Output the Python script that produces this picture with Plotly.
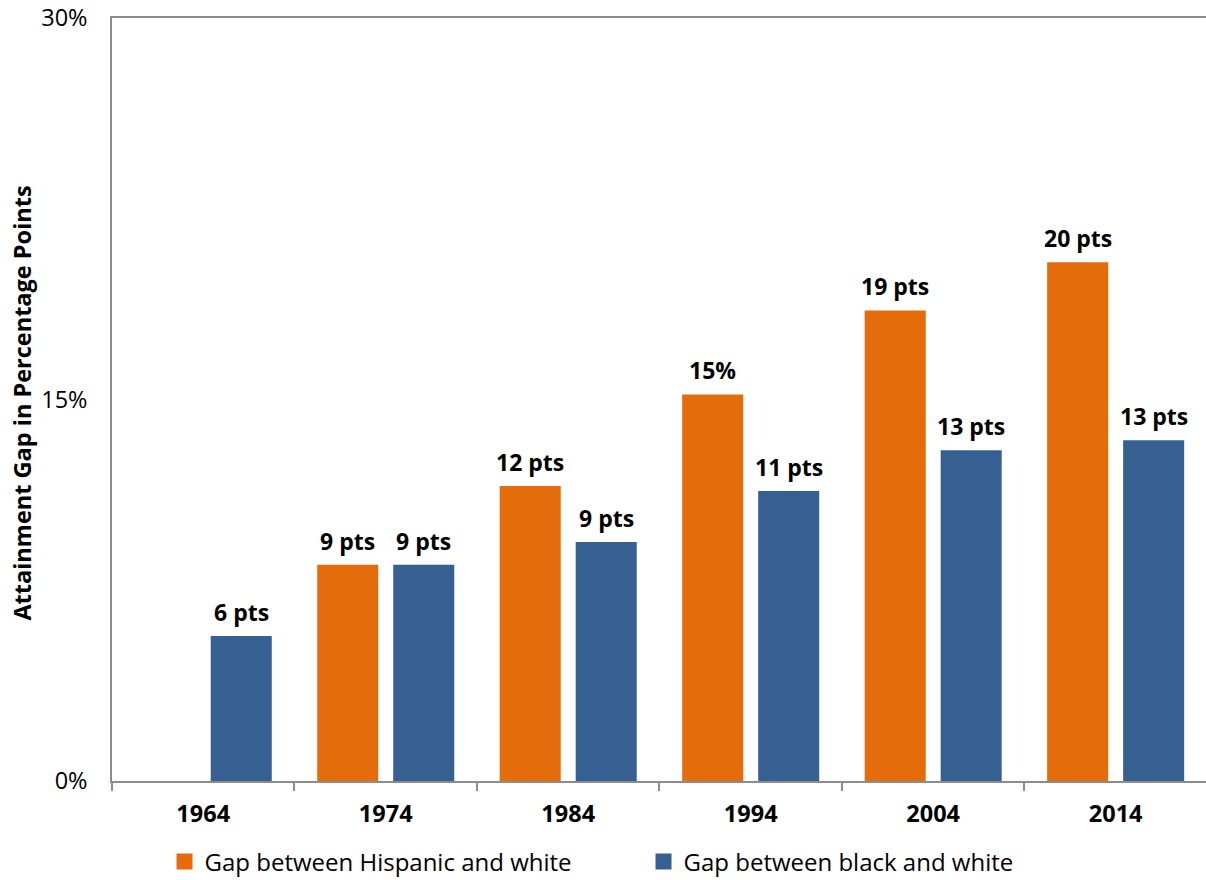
import plotly.graph_objects as go

# Survey years and attainment gaps (percentage points)
years = ["1964", "1974", "1984", "1994", "2004", "2014"]
hispanic_gap = [None, 8.5, 11.6, 15.2, 18.5, 20.4]
black_gap = [5.7, 8.5, 9.4, 11.4, 13.0, 13.4]
hispanic_units = [" pts", " pts", " pts", "%", " pts", " pts"]
black_units = [" pts", " pts", " pts", " pts", " pts", " pts"]

series_names = ["Gap between Hispanic and white", "Gap between black and white"]
orange = "#E46C0A"
blue = "#376092"
axis_gray = "#8C8C8C"
font_family = "Open Sans, Arial, sans-serif"

y_ticks = [0, 15, 30]
y_ticktext = ["0%", "15%", "30%"]


def label_for(value, unit):
    # Excel-style rounding (half up) for the data labels
    return f"{int(value + 0.5)}{unit}"


fig = go.Figure()
fig.add_trace(go.Bar(x=years, y=hispanic_gap, name=series_names[0],
                     marker=dict(color=orange, line=dict(width=0)),
                     showlegend=False))
fig.add_trace(go.Bar(x=years, y=black_gap, name=series_names[1],
                     marker=dict(color=blue, line=dict(width=0)),
                     showlegend=False))

# Legend entries with larger square swatches
for name, color in zip(series_names, [orange, blue]):
    fig.add_trace(go.Scatter(x=[None], y=[None], mode="markers", name=name,
                             marker=dict(symbol="square", size=16, color=color)))

# Value labels above each bar (x given as category index, shifted onto its bar slot)
slot_px = 38
annotations = []
for vals, units, shift in [(hispanic_gap, hispanic_units, -slot_px),
                           (black_gap, black_units, slot_px)]:
    for i, (v, u) in enumerate(zip(vals, units)):
        if v is None:
            continue
        annotations.append(dict(
            x=i, y=v, xref="x", yref="y", text=label_for(v, u),
            showarrow=False, xanchor="center", yanchor="bottom",
            xshift=shift, yshift=6,
            font=dict(family=font_family, size=23, color="#000000", weight="bold"),
        ))

annotations.append(dict(
    x=-0.082, y=0.495, xref="paper", yref="paper",
    text="Attainment Gap in Percentage Points", textangle=-90,
    showarrow=False, xanchor="center", yanchor="middle",
    font=dict(family=font_family, size=23.5, color="#000000", weight="bold"),
))

fig.update_layout(
    width=1206, height=880,
    margin=dict(l=112, r=0, t=18, b=99, autoexpand=False),
    paper_bgcolor="white", plot_bgcolor="white",
    barmode="group", bargap=0.167, bargroupgap=0.197,
    font=dict(family=font_family, color="#000000"),
    annotations=annotations,
    legend=dict(orientation="h", x=0.048, y=-0.106, xanchor="left", yanchor="middle",
                font=dict(family=font_family, size=24, color="#000000"),
                itemsizing="trace", entrywidth=434, bgcolor="rgba(0,0,0,0)"),
)

fig.update_xaxes(
    type="category", range=[-0.5, 5.495],
    showline=True, linecolor=axis_gray, linewidth=1.5, mirror=True,
    ticks="outside", ticklen=8, tickcolor=axis_gray, tickwidth=1.5,
    tickson="boundaries", ticklabelstandoff=11,
    tickfont=dict(family=font_family, size=23.5, color="#000000", weight="bold"),
    showgrid=False, zeroline=False, fixedrange=True,
)
fig.update_yaxes(
    range=[0, 30], tickvals=y_ticks, ticktext=y_ticktext,
    showline=True, linecolor=axis_gray, linewidth=1.5,
    ticks="", ticklabelstandoff=18,
    tickfont=dict(family=font_family, size=23.5, color="#000000"),
    showgrid=False, zeroline=False, fixedrange=True,
)

fig.write_html("out.html")
